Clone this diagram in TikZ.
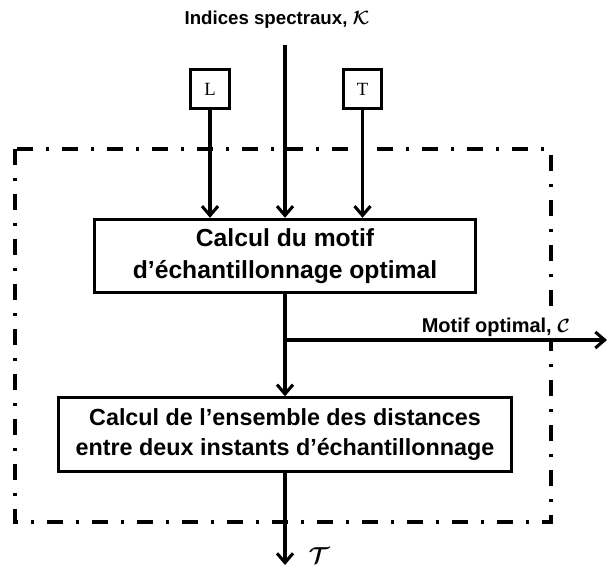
\documentclass[tikz,border=0pt]{standalone}
\usepackage{amsmath,amssymb,bm}
\usepackage{fontspec}
\setsansfont{Liberation Sans}
\newfontfamily\letterfont{Liberation Serif}
\usetikzlibrary{positioning,arrows.meta}
\tikzset{
  figbox/.style={draw, line width=2.3pt, align=center, inner sep=3pt, fill=white},
  figletter/.style={draw, line width=2.3pt, minimum size=29pt, inner sep=0pt, font=\letterfont\fontsize{14}{16}\selectfont},
  figarrow/.style={-{Straight Barb[length=7pt,width=12pt]}, line width=2.3pt},
  figlabel/.style={font=\sffamily\bfseries\fontsize{14}{16}\selectfont},
  figframe/.style={line width=2.3pt, dash pattern=on 12pt off 9.75pt on 2.25pt off 9.75pt},
}

\begin{document}
\begin{tikzpicture}[x=0.75pt,y=-0.75pt]
  \useasboundingbox (0,0) rectangle (609,566);
  \draw[figframe] (15,149) rectangle (551,522);
  \node[figlabel] (indices) at (277,20) {Indices spectraux, $\boldsymbol{\mathcal{K}}$};
  \coordinate (ktop) at (285,45);
  \node[figletter] (lbox) at (210,89) {L};
  \node[figletter] (tbox) at (362.5,89) {T};
  \node[figbox, font=\sffamily\bfseries\fontsize{18.5}{24}\selectfont, minimum width=286pt, minimum height=55pt] (motif) at (285,256) {Calcul du motif\\d’échantillonnage optimal};
  \node[figbox, font=\sffamily\bfseries\fontsize{17.5}{22.5}\selectfont, minimum width=340pt, minimum height=55pt] (distances) at (285,434.5) {Calcul de l’ensemble des distances\\entre deux instants d’échantillonnage};
  \coordinate (split) at (285,340);
  \coordinate (cout) at (607,340);
  \coordinate (tout) at (285,565);
  \draw[figarrow] (ktop) -- (motif.north);
  \draw[figarrow] (lbox) -- (lbox |- motif.north);
  \draw[figarrow] (tbox) -- (tbox |- motif.north);
  \draw[figarrow] (motif) -- (distances);
  \draw[figarrow] (split) -- node[figlabel, above, pos=0.655, fill=white, inner sep=1pt, font=\sffamily\bfseries\fontsize{15}{17}\selectfont]{Motif optimal, $\boldsymbol{\mathcal{C}}$} (cout);
  \draw[figarrow] (distances) -- (tout);
  \node[font=\fontsize{16}{18}\selectfont] (tlabel) at (319,556) {$\boldsymbol{\mathcal{T}}$};
\end{tikzpicture}
\end{document}
